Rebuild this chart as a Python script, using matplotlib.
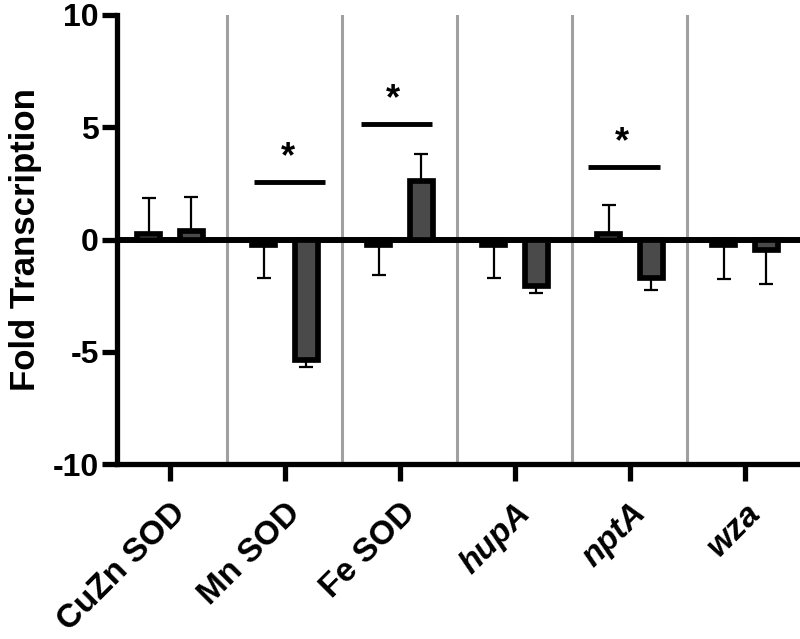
import numpy as np
import matplotlib
matplotlib.use("Agg")
import matplotlib.pyplot as plt

plt.rcParams['font.family'] = ['Liberation Sans', 'DejaVu Sans']
plt.rcParams['font.weight'] = 'bold'
plt.rcParams['axes.unicode_minus'] = False

# data
genes      = ["CuZn SOD", "Mn SOD", "Fe SOD", "hupA", "nptA", "wza"]
italic     = [False, False, False, True, True, True]
ctrl_vals  = [0.25, -0.25, -0.25, -0.25, 0.25, -0.25]
ctrl_err   = [1.62, 1.48, 1.35, 1.47, 1.30, 1.50]
treat_vals = [0.40, -5.35, 2.60, -2.05, -1.70, -0.45]
treat_err  = [1.50, 0.33, 1.22, 0.32, 0.53, 1.55]

# significance bars: group index, left/right offsets, height
sig_group = [1, 2, 4]
sig_left  = [-0.27, -0.34, -0.36]
sig_right = [0.35, 0.28, 0.26]
sig_y     = [2.55, 5.15, 3.25]
sig_star_dx = [0.03, -0.06, -0.07]

x = np.arange(len(genes))
width = 0.2
off = 0.185

fig = plt.figure(figsize=(8, 6.39), dpi=100)
ax = fig.add_axes([117/800, 1-464/639, (800-117)/800, (464-15)/639])

# grey separators between genes
for sep in x[:-1] + 0.5:
    ax.axvline(sep, color='#a0a0a0', lw=2.2, zorder=0)

ax.axhline(0, color='black', lw=4.3, zorder=1)

def one_sided(vals, err):
    vals = np.array(vals); err = np.array(err)
    lower = np.where(vals < 0, err, 0)
    upper = np.where(vals >= 0, err, 0)
    return [lower, upper]

ax.errorbar(x - off, ctrl_vals, yerr=one_sided(ctrl_vals, ctrl_err), fmt='none',
            ecolor='black', elinewidth=1.6, capsize=5, capthick=1.6, zorder=2)
ax.errorbar(x + off, treat_vals, yerr=one_sided(treat_vals, treat_err), fmt='none',
            ecolor='black', elinewidth=1.6, capsize=5, capthick=1.6, zorder=2)

ax.bar(x - off, ctrl_vals, width, color='white', edgecolor='black', lw=4.1, zorder=3)
ax.bar(x + off, treat_vals, width, color='#4a4a4a', edgecolor='black', lw=4.1, zorder=3)

for g, l, r, h, dx in zip(sig_group, sig_left, sig_right, sig_y, sig_star_dx):
    ax.plot([g + l, g + r], [h, h], color='black', lw=3.5, solid_capstyle='butt', zorder=3)
    ax.text(g + dx, h + 0.3, "*", ha='center', va='bottom', fontsize=26, fontweight='bold')

ax.set_xlim(-0.46, 5.48)
ax.set_ylim(-10, 10)
ax.set_yticks([-10, -5, 0, 5, 10])
ax.set_xticks(x)
ax.set_xticklabels(genes, rotation=45, ha='right', rotation_mode='anchor')
for lab, it in zip(ax.get_xticklabels(), italic):
    if it:
        lab.set_fontstyle('italic')
ax.tick_params(axis='y', labelsize=23, width=3.8, length=11, color='black', pad=2)
ax.tick_params(axis='x', labelsize=24, width=3.8, length=12, color='black', pad=12)
ax.set_ylabel("Fold Transcription", fontsize=25, fontweight='bold', labelpad=8)

for s in ['top', 'right']:
    ax.spines[s].set_visible(False)
for s in ['left', 'bottom']:
    ax.spines[s].set_linewidth(3.8)

fig.savefig('out.png', dpi=100)
